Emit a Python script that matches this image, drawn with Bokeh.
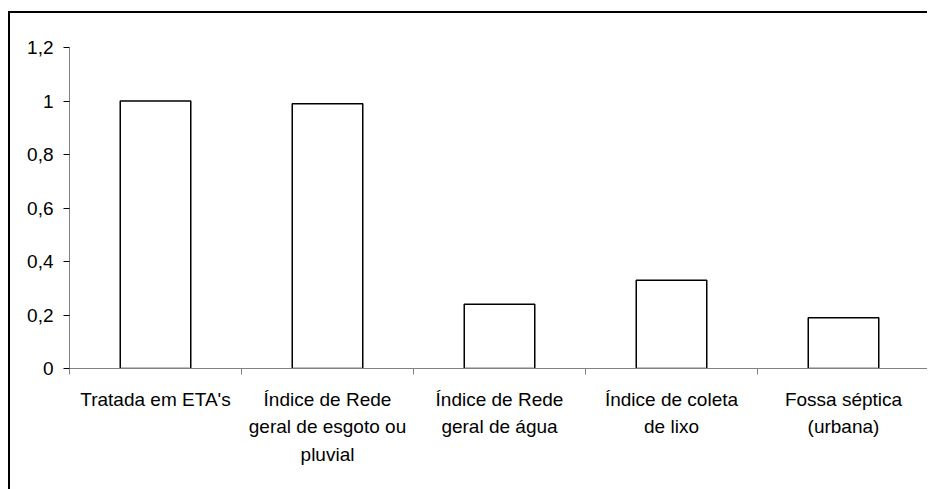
from bokeh.plotting import figure
from bokeh.models import Range1d, FixedTicker, LinearAxis, Div
from bokeh.layouts import column, row
from bokeh.embed import file_html
from bokeh.resources import INLINE

categories = ["Tratada em ETA's",
              "Índice de Rede\ngeral de esgoto ou\npluvial",
              "Índice de Rede\ngeral de água",
              "Índice de coleta\nde lixo",
              "Fossa séptica\n(urbana)"]
values = [1.0, 0.99, 0.24, 0.33, 0.19]
y_ticks = [0, 0.2, 0.4, 0.6, 0.8, 1.0, 1.2]
y_tick_labels = ["0", "0,2", "0,4", "0,6", "0,8", "1", "1,2"]

FONT = "Liberation Sans"
FS = "19px"

xs = [i + 0.5 for i in range(len(categories))]

PW = 917
# frame starts at page x=69; one category is ~172 px wide
x_end = (PW - 59) / 172

p = figure(width=PW, height=476, output_backend="svg", toolbar_location=None,
           x_range=Range1d(0, x_end), y_range=Range1d(0, 1.2),
           min_border_left=59, min_border_right=0, min_border_top=34,
           min_border_bottom=121, x_axis_location=None, y_axis_location=None)
p.margin = 0
p.grid.visible = False
p.outline_line_color = None
p.background_fill_color = "white"
p.border_fill_color = "white"

p.vbar(x=xs, top=values, bottom=0, width=0.41, fill_color="white",
       line_color="black", line_width=1.5)

ya = LinearAxis(ticker=FixedTicker(ticks=y_ticks))
ya.major_label_overrides = {t: l for t, l in zip(y_ticks, y_tick_labels)}
ya.axis_line_color = "#808080"
ya.major_tick_line_color = "#000000"
ya.major_tick_out = 6
ya.major_tick_in = 0
ya.minor_tick_out = 0
ya.minor_tick_in = 0
ya.major_label_standoff = 10
ya.major_label_text_font = FONT
ya.major_label_text_font_size = FS
ya.major_label_text_color = "black"
p.add_layout(ya, "left")

xa = LinearAxis(ticker=FixedTicker(ticks=list(range(len(categories) + 1))))
xa.major_label_overrides = {i: "" for i in range(len(categories) + 1)}
xa.major_label_text_font_size = "0px"
xa.major_label_standoff = 0
xa.axis_line_color = "#808080"
xa.major_tick_line_color = "#808080"
xa.major_tick_out = 6
xa.major_tick_in = 0
xa.minor_tick_out = 0
xa.minor_tick_in = 0
p.add_layout(xa, "below")

xl = LinearAxis(ticker=FixedTicker(ticks=xs))
xl.major_label_overrides = {x: c for x, c in zip(xs, categories)}
xl.axis_line_color = None
xl.major_tick_line_color = None
xl.minor_tick_line_color = None
xl.major_tick_out = 0
xl.major_tick_in = 0
xl.major_label_standoff = 14
xl.major_label_text_font = FONT
xl.major_label_text_font_size = FS
xl.major_label_text_color = "black"
xl.major_label_text_line_height = 1.33
p.add_layout(xl, "below")

top_line = Div(text="", width=PW + 2, height=2, margin=0,
               styles={"background-color": "black"})
left_line = Div(text="", width=2, height=476, margin=0,
                styles={"background-color": "black"})
inner = row(left_line, p, spacing=0)
inner.margin = 0
layout = column(top_line, inner, spacing=0)
layout.margin = 0
layout.styles = {"margin-top": "11px", "margin-left": "8px"}

open("out.html", "w").write(file_html(layout, INLINE))
